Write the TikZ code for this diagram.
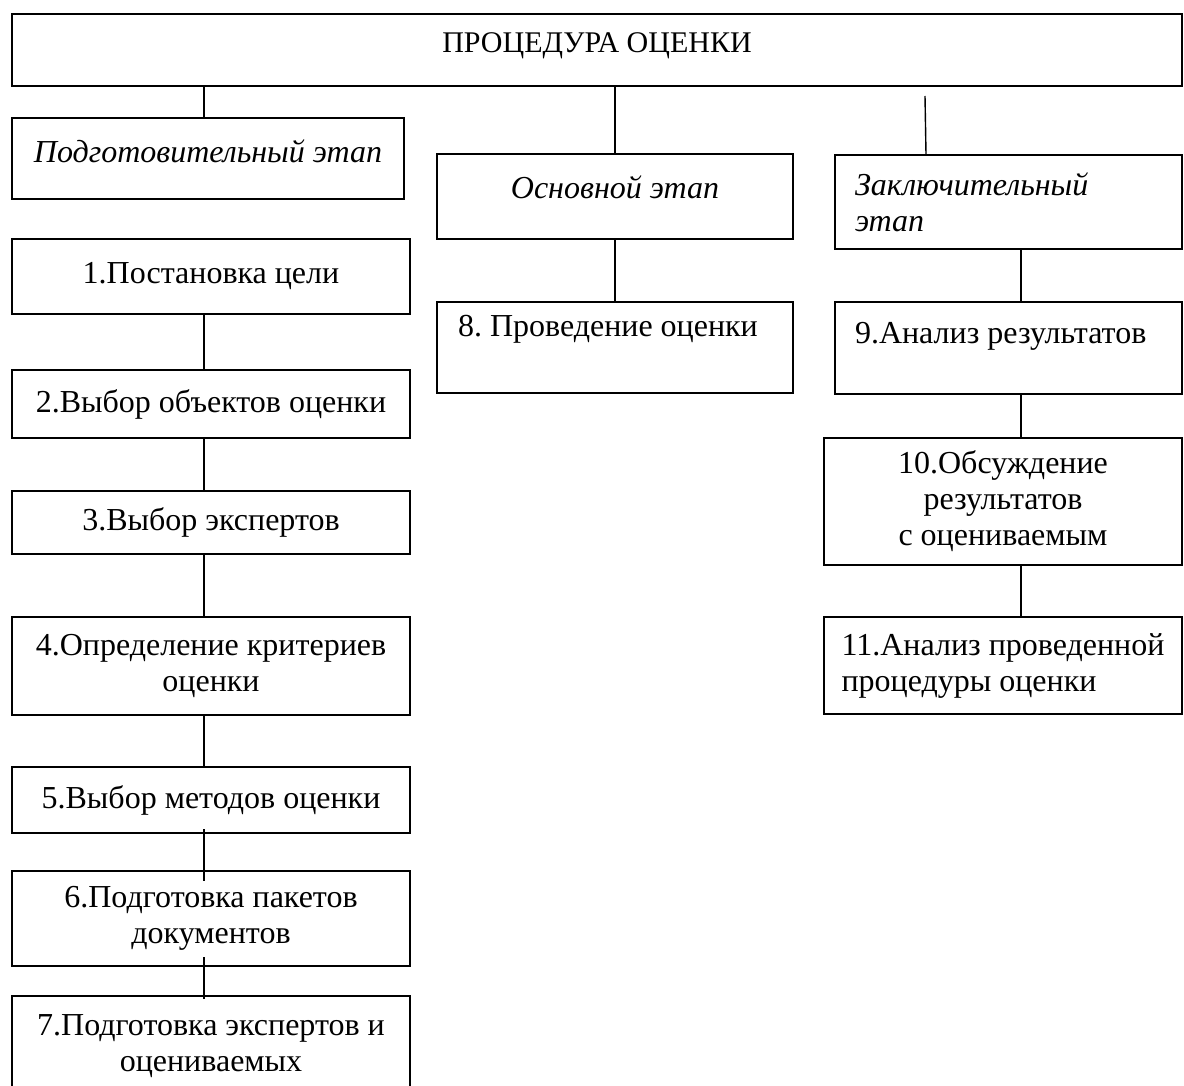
\documentclass[tikz,border=0pt]{standalone}
\usepackage{fontspec}
\setmainfont{Liberation Serif}
\frenchspacing
\newcommand{\boxfont}{\fontsize{16}{18}\selectfont}
\begin{document}
\begin{tikzpicture}[x=0.5pt,y=-0.5pt,line cap=butt,line join=miter,font=\boxfont]
	\tikzset{box/.style={draw,line width=1pt,inner sep=0pt,align=center},
		boxl/.style={box,align=flush left,text width=#1},
		lift/.style={text depth=#1},
		link/.style={line width=0.7pt}}
	\useasboundingbox (0,0) rectangle (1184,1086);
	% Заголовок
	\node[box,minimum width=585pt,minimum height=36pt,lift=7pt,font=\fontsize{15}{17}\selectfont] (proc) at (597,50) {ПРОЦЕДУРА ОЦЕНКИ};
	%--------- Этапы
	\node[box,minimum width=196pt,minimum height=40.5pt,lift=7.5pt,font=\boxfont\itshape] (prep) at (208,158.5) {Подготовительный этап};
	\node[box,minimum width=178pt,minimum height=42.5pt,lift=9pt,font=\boxfont\itshape] (main) at (615,196.5) {Основной этап};
	\node[boxl=153.5pt,minimum width=173.5pt,minimum height=47pt,font=\boxfont\itshape] (final) at (1008.5,202) {Заключительный\\этап};
	%--------- Подготовительный этап
	\node[box,minimum width=199pt,minimum height=37.5pt] (s1) at (211,276.5) {1.Постановка цели};
	\node[box,minimum width=199pt,minimum height=34pt] (s2) at (211,404) {2.Выбор объектов оценки};
	\node[box,minimum width=199pt,minimum height=31.5pt] (s3) at (211,522.5) {3.Выбор экспертов};
	\node[box,minimum width=199pt,minimum height=49pt] (s4) at (211,666) {4.Определение критериев\\оценки};
	\node[box,minimum width=199pt,minimum height=33pt] (s5) at (211,800) {5.Выбор методов оценки};
	\node[box,minimum width=199pt,minimum height=47.5pt] (s6) at (211,918.5) {6.Подготовка пакетов\\документов};
	\node[box,minimum width=199pt,minimum height=50pt] (s7) at (211,1046) {7.Подготовка экспертов и\\оцениваемых};
	%--------- Основной и заключительный этапы
	\node[boxl=157pt,minimum width=178pt,minimum height=45.5pt,lift=21.5pt] (s8) at (615,347.5) {8. Проведение оценки};
	\node[boxl=153.5pt,minimum width=173.5pt,minimum height=46pt,lift=15.5pt] (s9) at (1008.5,348) {9.Анализ результатов};
	\node[box,minimum width=179pt,minimum height=63.5pt] (s10) at (1003,501.5) {10.Обсуждение\\результатов\\с оцениваемым};
	\node[box,align=left,minimum width=179pt,minimum height=48.5pt] (s11) at (1003,665.5) {11.Анализ проведенной\\процедуры оценки};
	%--------- Линии
	\coordinate (lx) at (204,0);
	\coordinate (rx) at (925,0);
	\coordinate (fx) at (1021,0);
	\draw[link] (proc.south -| lx) -- (prep.north -| lx);
	\draw[link] (proc.south -| main) -- (main.north);
	\draw[link] ([yshift=-4.5pt]proc.south -| rx) -- ([xshift=0.5pt]final.north -| rx);
	\draw[link] (main) -- (s8);
	\foreach \a/\b in {s1/s2,s2/s3,s3/s4,s4/s5}
		\draw[link] (\a.south -| lx) -- (\b.north -| lx);
	\draw[link] ([yshift=2.5pt]s5.south -| lx) -- ([yshift=-5.5pt]s6.north -| lx);
	\draw[link] ([yshift=5pt]s6.south -| lx) -- ([yshift=-2pt]s7.north -| lx);
	\foreach \a/\b in {final/s9,s9/s10,s10/s11}
		\draw[link] (\a.south -| fx) -- (\b.north -| fx);
\end{tikzpicture}
\end{document}
